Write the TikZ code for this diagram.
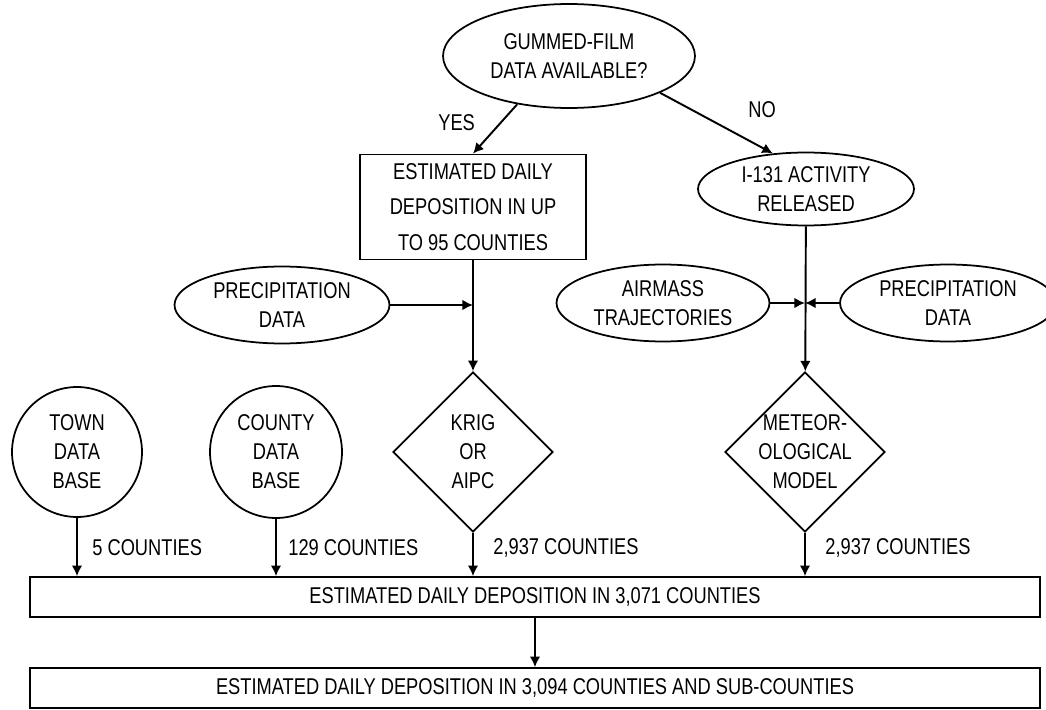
\documentclass[tikz,border=0pt]{standalone}
\usepackage{fontspec}
\setmainfont{Liberation Sans}[FakeStretch=0.8]
\usetikzlibrary{arrows.meta,shapes.geometric,positioning}

\begin{document}
\begin{tikzpicture}[x=0.02cm, y=-0.02cm, >={Latex[length=6pt,width=6pt]},
  every node/.style={font=\fontsize{13}{16.5}\selectfont, align=center},
  query/.style={draw, ellipse, line width=1pt, inner sep=0pt},
  process/.style={draw, rectangle, line width=1pt, inner sep=0pt},
  method/.style={draw, diamond, aspect=1, line width=1pt, inner sep=-3pt},
  store/.style={draw, circle, line width=1pt, inner sep=0pt},
  result/.style={draw, rectangle, line width=1pt, minimum width=20.2cm, minimum height=0.8cm},
  flow/.style={->, line width=1.1pt},
  count/.style={anchor=west, inner sep=0pt}]

% fixed page size
\useasboundingbox (0,0) rectangle (1046,710);

% ---------------- 1. DECISION AT THE TOP ----------------
\node[query, minimum width=5.04cm, minimum height=2.08cm] (gum) at (569,56) {GUMMED-FILM\\DATA AVAILABLE?};

% ---------------- 2. YES BRANCH ----------------
\node[process, minimum width=4.52cm, minimum height=2.1cm, font=\fontsize{13}{20}\selectfont] (est95) at (473,207) {ESTIMATED DAILY\\DEPOSITION IN UP\\TO 95 COUNTIES};
\node[query, minimum width=4.3cm, minimum height=1.54cm] (precipL) at (282,305) {PRECIPITATION\\DATA};
\node[method, minimum width=3.2cm, minimum height=3.2cm] (krig) at (473,452) {KRIG\\OR\\AIPC};

% ---------------- 3. NO BRANCH ----------------
\node[query, minimum width=4.32cm, minimum height=1.46cm] (i131) at (806,189) {I-131 ACTIVITY\\RELEASED};
\node[query, minimum width=4.26cm, minimum height=1.54cm] (airmass) at (663,303) {AIRMASS\\TRAJECTORIES};
\node[query, minimum width=4.32cm, minimum height=1.54cm] (precipR) at (948,303) {PRECIPITATION\\DATA};
\node[method, minimum width=3.2cm, minimum height=3.2cm] (met) at (805,452) {METEOR-\\OLOGICAL\\MODEL};

% ---------------- 4. DATA BASES ----------------
\node[store, minimum size=2.6cm] (town) at (77,452) {TOWN\\DATA\\BASE};
\node[store, minimum size=2.64cm] (county) at (276,452) {COUNTY\\DATA\\BASE};

% ---------------- 5. RESULT BARS ----------------
\node[result] (all) at (535,597) {ESTIMATED DAILY DEPOSITION IN 3,071 COUNTIES};
\node[result] (sub) at (535,688) {ESTIMATED DAILY DEPOSITION IN 3,094 COUNTIES AND SUB-COUNTIES};

% ---------------- 6. CONNECTORS ----------------
\draw[flow] (gum.223) -- (est95.north);
\draw[flow] (gum.338) -- (i131.133);
\draw[flow] (est95) -- (krig);
\draw[flow] (precipL) -- (precipL.east -| krig.north);
\draw[flow] (i131) -- (met);
\draw[flow] (airmass) -- (airmass.east -| met.north);
\draw[flow] (precipR) -- (precipR.west -| met.north);

% inputs to the 3,071 counties bar
\draw[flow] (town) -- (town.south |- all.north);
\draw[flow] (county) -- (county.south |- all.north);
\draw[flow] (krig) -- (krig.south |- all.north);
\draw[flow] (met) -- (met.south |- all.north);
\draw[flow] (all) -- (sub);

% ---------------- 7. LABELS ----------------
\node[count] (yes) at (438,123) {YES};
\node[count] (no) at (748,110) {NO};
\node[count] (n5) at (92,548) {5 COUNTIES};
\node[count] (n129) at (288,548) {129 COUNTIES};
\node[count] (n2937a) at (493,548) {2,937 COUNTIES};
\node[count] (n2937b) at (825,548) {2,937 COUNTIES};

\end{tikzpicture}
\end{document}
